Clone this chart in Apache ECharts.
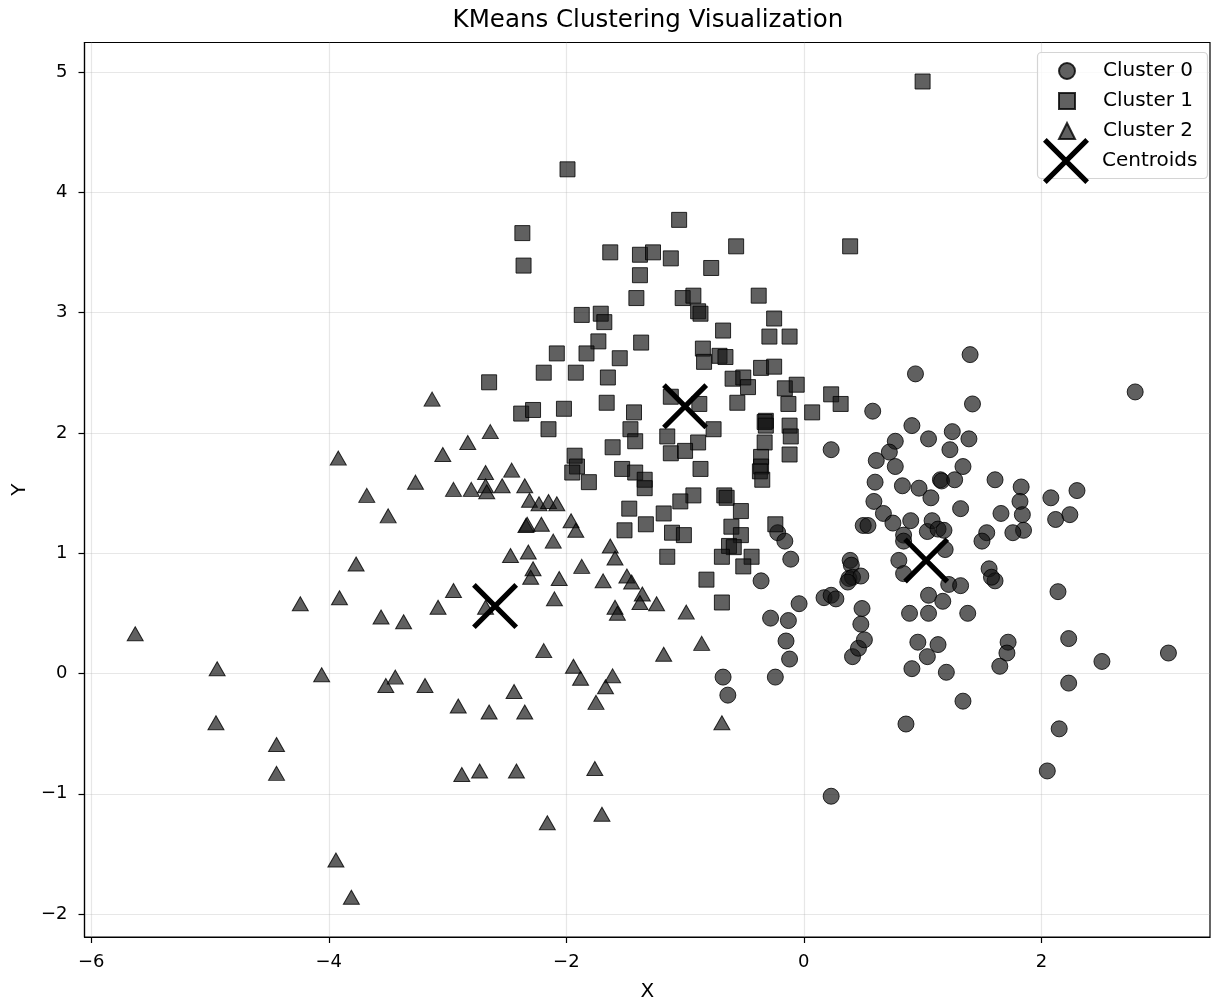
<!DOCTYPE html>
<html><head><meta charset="utf-8">
<script src="https://cdn.jsdelivr.net/npm/echarts@6/dist/echarts.min.js"></script>
<style>html,body{margin:0;padding:0;background:#fff}#c{width:1215px;height:1007px}</style>
</head><body><div id="c"></div>
<script>
// ---- data ----
const cluster0 = [
[0.94,2.49],[0.58,2.18],[0.23,1.86],[0.91,2.06],[0.77,1.93],[0.72,1.84],[0.61,1.77],[0.77,1.72],[0.60,1.59],[0.83,1.56],[0.97,1.54],[0.59,1.43],[0.67,1.33],[0.75,1.25],[0.90,1.27],[0.50,1.23],[0.54,1.23],[0.84,1.15],[0.84,1.10],[1.04,1.18],
[-0.22,1.17],[-0.16,1.10],[-0.11,0.95],[-0.36,0.77],[-0.04,0.58],[-0.28,0.46],[-0.13,0.44],[0.39,0.94],[0.40,0.90],[0.38,0.79],[0.41,0.80],[0.48,0.81],[0.37,0.76],[0.17,0.63],[0.23,0.65],[0.27,0.62],[0.49,0.54],[0.48,0.41],[0.80,0.94],[0.84,0.83],[0.89,0.50],
[1.40,2.65],[2.79,2.34],[1.42,2.24],[1.25,2.01],[1.39,1.95],[1.05,1.95],[1.23,1.86],[1.34,1.72],[1.15,1.61],[1.16,1.60],[1.27,1.61],[1.61,1.61],[1.07,1.46],[1.32,1.37],[1.83,1.55],[1.82,1.43],[1.66,1.33],[1.84,1.32],[1.85,1.19],[1.76,1.17],[2.08,1.46],[2.30,1.52],[2.12,1.28],[2.24,1.32],[1.54,1.17],[1.50,1.10],[1.08,1.27],[1.13,1.20],[1.18,1.19],[1.19,1.03],[1.56,0.87],[1.61,0.77],[1.58,0.80],[1.22,0.74],[1.32,0.73],[1.05,0.65],[1.17,0.60],[1.38,0.50],[1.05,0.50],[2.14,0.68],
[2.23,0.29],[1.72,0.26],[1.71,0.17],[1.13,0.24],[1.04,0.14],[1.20,0.01],[1.34,-0.23],[1.65,0.06],[2.51,0.10],[3.07,0.17],[2.23,-0.08],[2.15,-0.46],[2.05,-0.81],
[-0.68,-0.03],[-0.64,-0.18],[-0.24,-0.03],[-0.12,0.12],[-0.15,0.27],[0.23,-1.02],[0.41,0.14],[0.46,0.21],[0.51,0.28],[0.96,0.26],[0.91,0.04],[0.86,-0.42]
];
const cluster1 = [
[-1.99,4.19],[-2.37,3.66],[-2.36,3.39],[-1.63,3.50],[-1.38,3.48],[-1.27,3.50],[-1.38,3.31],[-1.41,3.12],[-1.87,2.98],[-1.71,2.99],[-1.68,2.92],[-1.73,2.76],[-1.37,2.75],
[1.00,4.92],[-1.05,3.77],[0.39,3.55],[-0.57,3.55],[-1.12,3.45],[-0.78,3.37],[-1.02,3.12],[-0.93,3.14],[-0.89,3.01],[-0.87,2.99],[-0.38,3.14],[-0.25,2.95],[-0.68,2.85],[-0.29,2.80],[-0.12,2.80],
[-0.85,2.70],[-0.84,2.59],[-0.71,2.64],[-0.66,2.63],[-0.36,2.54],[-0.25,2.55],[-0.60,2.45],[-0.51,2.46],[-0.47,2.38],[-0.16,2.37],[-0.06,2.40],[-0.56,2.25],[-0.13,2.24],[0.23,2.32],[0.31,2.24],[0.07,2.17],[-1.12,2.30],[-0.88,2.24],[-0.76,2.03],[-0.32,2.10],[-0.33,2.09],[-0.32,2.06],[-0.12,2.06],[-0.11,1.97],[-0.12,1.82],[-1.15,1.97],[-0.89,1.92],[-1.12,1.83],[-1.00,1.85],[-0.33,1.92],[-0.36,1.80],[-0.36,1.72],[-0.37,1.68],[-0.35,1.61],[-0.87,1.70],[-0.93,1.48],[-1.04,1.43],[-1.18,1.33],[-0.67,1.48],[-0.65,1.46],[-0.53,1.35],[-1.11,1.17],[-1.01,1.15],[-0.61,1.22],[-0.53,1.15],[-0.63,1.06],[-0.59,1.05],[-0.24,1.24],[-0.69,0.97],[-0.44,0.97],[-0.51,0.89],[-1.15,0.97],[-0.82,0.78],[-0.69,0.59],
[-2.08,2.66],[-1.83,2.66],[-1.55,2.62],[-2.19,2.50],[-1.92,2.50],[-1.65,2.46],[-2.65,2.42],[-1.66,2.25],[-1.43,2.17],[-2.38,2.16],[-2.28,2.19],[-2.02,2.20],[-2.15,2.03],[-1.46,2.03],[-1.42,1.93],[-1.61,1.88],[-1.93,1.81],[-1.91,1.72],[-1.95,1.67],[-1.81,1.59],[-1.53,1.70],[-1.42,1.67],[-1.34,1.61],[-1.34,1.54],[-1.47,1.37],[-1.33,1.24],[-1.51,1.19]
];
const cluster2 = [
[-5.63,0.33],[-4.94,0.04],[-4.95,-0.41],[-4.44,-0.59],[-4.44,-0.83],[-4.24,0.58],[-4.06,-0.01],[-3.92,1.79],[-3.91,0.63],[-3.94,-1.55],[-3.81,-1.86],[-3.77,0.91],[-3.68,1.48],[-3.56,0.47],[-3.52,-0.10],[-3.50,1.31],[-3.44,-0.03],[-3.37,0.43],[-3.27,1.59],[-3.19,-0.10],[-3.13,2.28],[-3.08,0.55],[-3.04,1.82],[-2.95,0.69],[-2.95,1.53],[-2.91,-0.27],[-2.88,-0.84],[-2.83,1.92],[-2.80,1.53],[-2.73,-0.81],[-2.68,1.67],[-2.68,1.56],[-2.67,1.51],[-2.65,-0.32],[-2.64,2.01],[-2.54,1.56],[-2.46,1.69],[-2.35,1.56],[-2.31,1.44],[-2.23,1.41],[-2.15,1.43],[-2.08,1.41],[-2.34,1.23],[-2.33,1.24],[-2.21,1.24],[-1.96,1.27],[-1.92,1.19],[-2.11,1.10],[-1.63,1.06],[-1.59,0.96],[-2.47,0.98],[-2.32,1.01],[-2.28,0.87],[-2.30,0.80],[-1.87,0.89],[-2.06,0.79],[-1.69,0.77],[-1.49,0.81],[-1.45,0.76],[-1.36,0.66],[-1.38,0.59],[-2.10,0.62],[-1.59,0.55],[-1.57,0.50],[-2.68,0.55],[-2.19,0.19],[-1.94,0.06],[-1.88,-0.04],[-1.61,-0.02],[-1.67,-0.11],[-1.75,-0.24],[-2.44,-0.15],[-2.35,-0.32],[-2.42,-0.81],[-1.76,-0.79],[-1.70,-1.17],[-2.16,-1.24],[-1.24,0.58],[-0.99,0.51],[-1.18,0.16],[-0.86,0.25],[-0.69,-0.41]
];
const centroids = [[-1.00,2.22],[1.03,0.94],[-2.60,0.56]];
const seriesNames = ['Cluster 0','Cluster 1','Cluster 2','Centroids'];
const xTicks = [-6,-4,-2,0,2];
const yTicks = [-2,-1,0,1,2,3,4,5];
const xRange = [-6.057, 3.42];
const yRange = [-2.19, 5.244];
const titleText = 'KMeans Clustering Visualization';

// ---- chart ----
const FONT = 'DejaVu Sans';
const minus = v => String(v).replace('-', '\u2212');
const markerStyle = {color:'rgba(20,20,20,0.68)', borderColor:'rgba(0,0,0,0.8)', borderWidth:1, opacity:1};
const xPath = 'path://M0,8 L8,0 L100,92 L92,100 Z M92,0 L100,8 L8,100 L0,92 Z';

const chart = echarts.init(document.getElementById('c'), null, {renderer:'canvas'});
const axisCommon = {
  type:'value',
  splitNumber:5,
  axisLine:{show:true, onZero:false, lineStyle:{color:'#000', width:1.2}},
  axisTick:{show:true, inside:false, length:6, lineStyle:{color:'#000', width:1.2}},
  splitLine:{show:true, lineStyle:{color:'rgba(176,176,176,0.3)', width:1.2}},
  axisLabel:{color:'#000', fontFamily:FONT, fontSize:18, formatter:minus},
  nameLocation:'middle',
  nameTextStyle:{color:'#000', fontFamily:FONT, fontSize:20}
};
chart.setOption({
  animation:false,
  backgroundColor:'#fff',
  title:{text:titleText, left:648, textAlign:'center', top:8, padding:0,
    textStyle:{color:'#000', fontFamily:FONT, fontSize:24.5, fontWeight:'normal'}},
  grid:{left:84.5, width:1125.5, top:42.5, height:898.5, show:true, borderColor:'#000', borderWidth:1.2, containLabel:false},
  xAxis:Object.assign({}, axisCommon, {
    min:xRange[0], max:xRange[1], name:'X', nameGap:45,
    axisTick:Object.assign({}, axisCommon.axisTick, {customValues:xTicks}),
    axisLabel:Object.assign({}, axisCommon.axisLabel, {customValues:xTicks, margin:16})
  }),
  yAxis:Object.assign({}, axisCommon, {
    min:yRange[0], max:yRange[1], name:'Y', nameGap:54,
    axisTick:Object.assign({}, axisCommon.axisTick, {customValues:yTicks}),
    axisLabel:Object.assign({}, axisCommon.axisLabel, {customValues:yTicks, margin:17})
  }),
  legend:[
    {data:seriesNames.slice(0,3), orient:'vertical', left:1058, top:61, itemWidth:16, itemHeight:16, itemGap:10,
     padding:0, textStyle:{color:'#000', fontFamily:FONT, fontSize:20, lineHeight:20, padding:[0,0,0,23]}},
    {data:[seriesNames[3]], orient:'vertical', left:1043, top:138, itemWidth:46, itemHeight:46,
     padding:0, textStyle:{color:'#000', fontFamily:FONT, fontSize:20, padding:[0,0,0,8]}}
  ],
  graphic:[{type:'rect', shape:{x:1037.5, y:52.5, width:170, height:126, r:4}, z:3,
    style:{fill:'rgba(255,255,255,0.8)', stroke:'#d4d4d4', lineWidth:1.2}}],
  series:[
    {name:seriesNames[0], type:'scatter', data:cluster0, symbol:'circle', symbolSize:16, itemStyle:markerStyle},
    {name:seriesNames[1], type:'scatter', data:cluster1, symbol:'rect', symbolSize:15, itemStyle:markerStyle},
    {name:seriesNames[2], type:'scatter', data:cluster2, symbol:'triangle', symbolSize:[16,14], itemStyle:markerStyle},
    {name:seriesNames[3], type:'scatter', data:centroids, symbol:xPath, symbolSize:46, z:5,
     itemStyle:{color:'#000', borderWidth:0, opacity:1}}
  ]
});
</script></body></html>
